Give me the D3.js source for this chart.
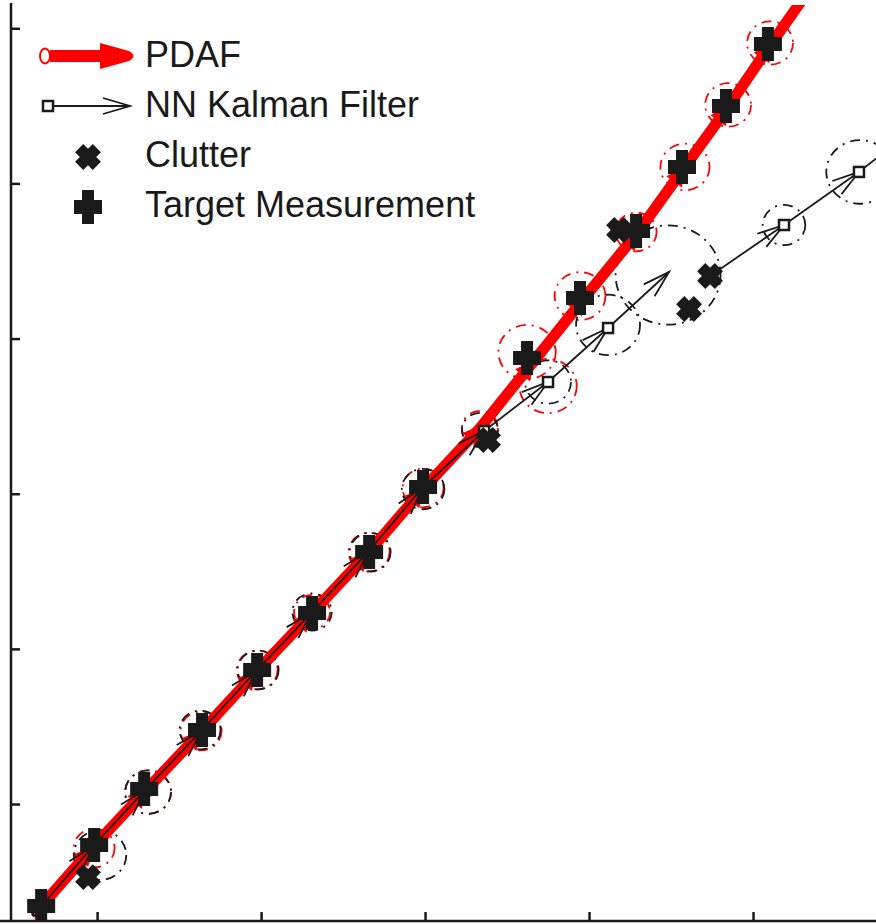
<!DOCTYPE html>
<html>
<head>
<meta charset="utf-8">
<script src="https://cdn.jsdelivr.net/npm/d3@7"></script>
<style>
body { margin: 0; background: #fff; }
svg { display: block; }
</style>
</head>
<body>
<div id="chart"></div>
<script>
var xTicks = [1, 2, 3, 4, 5];
var yTicks = [1, 2, 3, 4, 5, 6];

// PDAF estimates (one arrow from each point to the next)
var pdafX = [0.628, 0.970, 1.299, 1.634, 1.970, 2.305, 2.652, 2.988, 3.341, 3.659, 3.976, 4.299, 4.579, 4.848, 5.110, 5.360];
var pdafY = [0.304, 0.716, 1.090, 1.464, 1.851, 2.225, 2.618, 3.030, 3.430, 3.849, 4.268, 4.687, 5.099, 5.493, 5.899, 6.273];

// NN Kalman filter estimates and the tips of their arrows (predictions)
var nnX = [0.640, 0.976, 1.293, 1.634, 1.970, 2.305, 2.652, 2.982, 3.360, 3.750, 4.116, 4.738, 5.189, 5.646];
var nnY = [0.317, 0.729, 1.090, 1.471, 1.857, 2.231, 2.624, 3.037, 3.404, 3.720, 4.068, 4.403, 4.732, 5.074];
var nnTipX = [0.976, 1.293, 1.634, 1.970, 2.305, 2.652, 2.982, 3.360, 3.750, 4.116, 4.488, 5.189, 5.646, 6.104];
var nnTipY = [0.729, 1.090, 1.471, 1.857, 2.231, 2.624, 3.037, 3.404, 3.720, 4.068, 4.429, 4.732, 5.074, 5.454];

// measurements
var targetX = [0.659, 0.982, 1.287, 1.640, 1.976, 2.311, 2.659, 2.988, 3.622, 3.945, 4.287, 4.567, 4.835, 5.091];
var targetY = [0.343, 0.736, 1.097, 1.477, 1.864, 2.231, 2.624, 3.043, 3.875, 4.262, 4.693, 5.106, 5.499, 5.899];
var clutterX = [0.945, 3.384, 4.183, 4.610, 4.738];
var clutterY = [0.529, 3.346, 4.700, 4.191, 4.403];

// validation gates
var pdafGateX = [0.982, 1.311, 1.634, 1.976, 2.311, 2.659, 2.988, 3.335, 3.622, 3.750, 3.945, 4.287, 4.585, 4.848, 5.104];
var pdafGateY = [0.716, 1.077, 1.471, 1.864, 2.238, 2.624, 3.037, 3.424, 3.913, 3.694, 4.274, 4.687, 5.106, 5.506, 5.905];
var pdafGateR = [0.125, 0.14, 0.125, 0.125, 0.11, 0.125, 0.125, 0.11, 0.175, 0.175, 0.155, 0.125, 0.15, 0.14, 0.14];
var nnGateX = [1.018, 1.311, 1.628, 1.982, 2.311, 2.665, 2.988, 3.335, 3.750, 4.116, 4.482, 5.189, 5.652];
var nnGateY = [0.671, 1.077, 1.477, 1.864, 2.238, 2.624, 3.030, 3.411, 3.720, 4.088, 4.410, 4.732, 5.074];
var nnGateR = [0.16, 0.14, 0.125, 0.125, 0.12, 0.125, 0.13, 0.11, 0.14, 0.195, 0.32, 0.13, 0.205];

var legendLabels = ['PDAF', 'NN Kalman Filter', 'Clutter', 'Target Measurement'];

var width = 876, height = 924;
var ink = '#1a1a1a', red = '#ff0000';

var x = d3.scaleLinear().domain([0.475, 5.75]).range([11, 876]);
var y = d3.scaleLinear().domain([0.246, 6.15]).range([921, 5]);

var svg = d3.select('#chart').append('svg')
    .attr('width', width)
    .attr('height', height);

var defs = svg.append('defs');
defs.append('clipPath').attr('id', 'plotclip')
    .append('rect')
    .attr('x', 11).attr('y', 5)
    .attr('width', 876 - 11).attr('height', 921 - 5);

defs.append('marker')
    .attr('id', 'redhead')
    .attr('markerUnits', 'userSpaceOnUse')
    .attr('viewBox', '-20 -12 24 24')
    .attr('markerWidth', 24).attr('markerHeight', 24)
    .attr('refX', 0).attr('refY', 0)
    .attr('orient', 'auto')
    .append('path')
    .attr('d', 'M-17,-9.5 L-1,-2 Q2,0 -1,2 L-17,9.5 Z')
    .attr('fill', red);

defs.append('marker')
    .attr('id', 'openhead')
    .attr('markerUnits', 'userSpaceOnUse')
    .attr('viewBox', '-32 -12 36 24')
    .attr('markerWidth', 36).attr('markerHeight', 24)
    .attr('refX', 0).attr('refY', 0)
    .attr('orient', 'auto')
    .append('path')
    .attr('d', 'M-27,-8 L0,0 L-27,8')
    .attr('fill', 'none')
    .attr('stroke', ink)
    .attr('stroke-width', 1.8);

var plusPath = 'M-6,-17 H6 V-7 H14 V7 H6 V17 H-6 V7 H-14 V-7 H-6 Z';
var clutterPath = 'M-5.8,-12.5 H5.8 V-5.8 H12.5 V5.8 H5.8 V12.5 H-5.8 V5.8 H-12.5 V-5.8 H-5.8 Z';

var g = svg.append('g').attr('clip-path', 'url(#plotclip)');

var pdaf = d3.range(pdafX.length).map(i => ({ x: pdafX[i], y: pdafY[i] }));
var nn = d3.range(nnX.length).map(i => ({ x: nnX[i], y: nnY[i], tx: nnTipX[i], ty: nnTipY[i] }));
var targets = d3.range(targetX.length).map(i => ({ x: targetX[i], y: targetY[i] }));
var clutter = d3.range(clutterX.length).map(i => ({ x: clutterX[i], y: clutterY[i] }));
var pGates = d3.range(pdafGateX.length).map(i => ({ x: pdafGateX[i], y: pdafGateY[i], r: pdafGateR[i] }));
var nGates = d3.range(nnGateX.length).map(i => ({ x: nnGateX[i], y: nnGateY[i], r: nnGateR[i] }));

var rx = r => x(r) - x(0);
var ry = r => y(0) - y(r);

// gates
g.selectAll('.pgate')
    .data(pGates)
    .enter()
    .append('ellipse')
    .attr('class', 'pgate')
    .attr('cx', d => x(d.x)).attr('cy', d => y(d.y))
    .attr('rx', d => rx(d.r)).attr('ry', d => ry(d.r))
    .attr('fill', 'none')
    .attr('stroke', red)
    .attr('stroke-width', 1.8)
    .attr('stroke-dasharray', '10,6,2,6');

g.selectAll('.ngate')
    .data(nGates)
    .enter()
    .append('ellipse')
    .attr('class', 'ngate')
    .attr('cx', d => x(d.x)).attr('cy', d => y(d.y))
    .attr('rx', d => rx(d.r)).attr('ry', d => ry(d.r))
    .attr('fill', 'none')
    .attr('stroke', ink)
    .attr('stroke-width', 1.8)
    .attr('stroke-dasharray', '10,6,2,6');

// PDAF arrows
g.selectAll('.parrow')
    .data(pdaf.slice(0, -1))
    .enter()
    .append('line')
    .attr('class', 'parrow')
    .attr('x1', d => x(d.x)).attr('y1', d => y(d.y))
    .attr('x2', (d, i) => x(pdaf[i + 1].x)).attr('y2', (d, i) => y(pdaf[i + 1].y))
    .attr('stroke', red)
    .attr('stroke-width', 11)
    .attr('stroke-linecap', 'round')
    .attr('marker-end', 'url(#redhead)');

// NN arrows
g.selectAll('.narrow')
    .data(nn)
    .enter()
    .append('line')
    .attr('class', 'narrow')
    .attr('x1', d => x(d.x)).attr('y1', d => y(d.y))
    .attr('x2', d => x(d.tx)).attr('y2', d => y(d.ty))
    .attr('stroke', ink)
    .attr('stroke-width', 1.8)
    .attr('marker-end', 'url(#openhead)');

g.selectAll('.sq')
    .data(nn)
    .enter()
    .append('rect')
    .attr('class', 'sq')
    .attr('x', d => x(d.x) - 5).attr('y', d => y(d.y) - 5)
    .attr('width', 10).attr('height', 10)
    .attr('fill', '#fff')
    .attr('stroke', ink)
    .attr('stroke-width', 2.5);

g.selectAll('.clutter')
    .data(clutter)
    .enter()
    .append('path')
    .attr('class', 'clutter')
    .attr('d', clutterPath)
    .attr('transform', d => 'translate(' + x(d.x) + ',' + y(d.y) + ') rotate(45)')
    .attr('fill', ink);

g.selectAll('.target')
    .data(targets)
    .enter()
    .append('path')
    .attr('class', 'target')
    .attr('d', plusPath)
    .attr('transform', d => 'translate(' + x(d.x) + ',' + y(d.y) + ')')
    .attr('fill', ink);

// axes, ticks pointing inward, no labels
var xAxis = svg.append('g')
    .attr('transform', 'translate(0,921)')
    .call(d3.axisBottom(x).tickValues(xTicks).tickSize(-9).tickSizeOuter(0).tickFormat(''));
var yAxis = svg.append('g')
    .attr('transform', 'translate(11,0)')
    .call(d3.axisLeft(y).tickValues(yTicks).tickSize(-9).tickSizeOuter(0).tickFormat(''));
[xAxis, yAxis].forEach(a => {
    a.selectAll('path, line').attr('stroke', ink).attr('stroke-width', 2.5);
});
yAxis.select('.domain').attr('d', 'M0,3V922');
xAxis.select('.domain').attr('d', 'M-1,0H876');

// legend
var legend = svg.append('g').attr('class', 'legend');

legend.append('line')
    .attr('x1', 50).attr('y1', 56).attr('x2', 104).attr('y2', 56)
    .attr('stroke', red).attr('stroke-width', 12);
legend.append('path')
    .attr('d', 'M100,43 L129,51 Q138,56 129,61 L100,69 Z')
    .attr('fill', red);
legend.append('ellipse')
    .attr('cx', 45).attr('cy', 56).attr('rx', 5).attr('ry', 7.5)
    .attr('fill', '#fff').attr('stroke', red).attr('stroke-width', 2);

legend.append('line')
    .attr('x1', 53).attr('y1', 106).attr('x2', 130).attr('y2', 106)
    .attr('stroke', ink).attr('stroke-width', 2)
    .attr('marker-end', 'url(#openhead)');
legend.append('rect')
    .attr('x', 43).attr('y', 101).attr('width', 10).attr('height', 10)
    .attr('fill', '#fff').attr('stroke', ink).attr('stroke-width', 2.5);

legend.append('path')
    .attr('d', clutterPath)
    .attr('transform', 'translate(88,157) rotate(45)')
    .attr('fill', ink);
legend.append('path')
    .attr('d', plusPath)
    .attr('transform', 'translate(88,207)')
    .attr('fill', ink);

legend.selectAll('text')
    .data(legendLabels)
    .enter()
    .append('text')
    .attr('x', 145)
    .attr('y', (d, i) => 67 + i * 50)
    .attr('font-family', '"Liberation Sans", Arial, Helvetica, sans-serif')
    .attr('font-size', 36)
    .attr('fill', ink)
    .text(d => d);
</script>
</body>
</html>
